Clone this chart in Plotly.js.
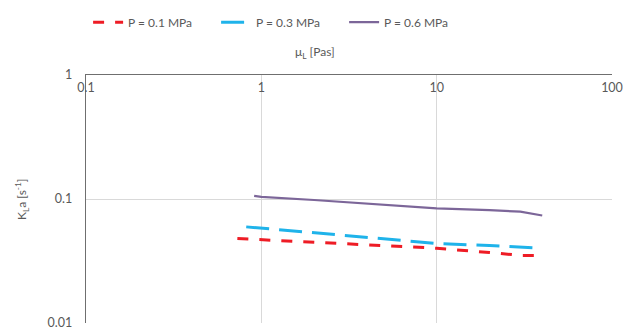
<!DOCTYPE html>
<html>
<head>
<meta charset="utf-8">
<script src="https://cdn.plot.ly/plotly-3.0.1.min.js"></script>
<style>html,body{margin:0;padding:0;background:#fff;}#chart{width:627px;height:331px;}</style>
</head>
<body>
<div id="chart"></div>
<script>
// Data
const seriesNames = ["P = 0.1 MPa", "P = 0.3 MPa", "P = 0.6 MPa"];
const x01 = [0.73, 1, 2, 5, 10, 20, 30, 40];
const y01 = [0.048, 0.047, 0.0448, 0.0425, 0.0401, 0.037, 0.0351, 0.0351];
const x03 = [0.82, 1, 2, 5, 10, 20, 40];
const y03 = [0.0596, 0.0582, 0.0534, 0.0474, 0.0438, 0.0421, 0.0401];
const x06 = [0.91, 1, 2, 5, 10, 20, 30, 40];
const y06 = [0.106, 0.104, 0.0982, 0.0897, 0.0841, 0.0812, 0.0792, 0.0736];
const xTickVals = [0.1, 1, 10, 100];
const xTickText = ["0.1", "1", "10", "100"];
const yTickVals = [0.01, 0.1, 1];
const yTickText = ["0.01", "0.1", "1"];
const xTitle = "μ<sub>L</sub> [Pas]";
const yTitle = "K<sub>L</sub>a [s<sup>-1</sup>]";

const font = {family: "Lato, 'Open Sans', sans-serif", size: 12, color: "#595959"};
const tickFont = {family: "Lato, 'Open Sans', sans-serif", size: 12.5, color: "#595959"};

const traces = [
  {x: x01, y: y01, name: seriesNames[0], mode: "lines",
   line: {color: "#ee1c25", width: 3, dash: "11px,11px"}},
  {x: x03, y: y03, name: seriesNames[1], mode: "lines",
   line: {color: "#1fb3ea", width: 3, dash: "23px,10px"}},
  {x: x06, y: y06, name: seriesNames[2], mode: "lines",
   line: {color: "#7c6699", width: 2.2}}
];

const layout = {
  width: 627, height: 331,
  margin: {l: 86, r: 15, t: 70, b: 8},
  paper_bgcolor: "#fff", plot_bgcolor: "#fff",
  font: font,
  showlegend: true,
  legend: {orientation: "h", x: 0.004, xanchor: "left", y: 1.213, yanchor: "middle",
           font: font, itemwidth: 30, traceorder: "normal", entrywidth: 83},
  xaxis: {type: "log", range: [-1, 2], side: "top",
          tickvals: xTickVals, ticktext: xTickText,
          ticklabelposition: "inside", ticklabeloverflow: "allow",
          ticklabelstandoff: 8,
          ticks: "", showline: true, linecolor: "#6f6f6f", linewidth: 1.3,
          showgrid: true, gridcolor: "#d9d9d9", gridwidth: 1,
          zeroline: false, tickfont: tickFont, fixedrange: true},
  yaxis: {type: "log", range: [-2, 0],
          tickvals: yTickVals, ticktext: yTickText,
          ticks: "", showline: true, linecolor: "#6f6f6f", linewidth: 1.3,
          showgrid: true, gridcolor: "#d9d9d9", gridwidth: 1,
          ticklabelstandoff: 10,
          zeroline: false, tickfont: tickFont, fixedrange: true},
  annotations: [
    {text: xTitle, xref: "paper", yref: "paper", x: 0.4354, y: 1.0909,
     xanchor: "center", yanchor: "middle", showarrow: false, font: font},
    {text: yTitle, xref: "paper", yref: "paper", x: -0.1217, y: 0.5,
     xanchor: "center", yanchor: "middle", textangle: -90, showarrow: false, font: font}
  ]
};

Plotly.newPlot("chart", traces, layout, {displayModeBar: false, staticPlot: true});
</script>
</body>
</html>
